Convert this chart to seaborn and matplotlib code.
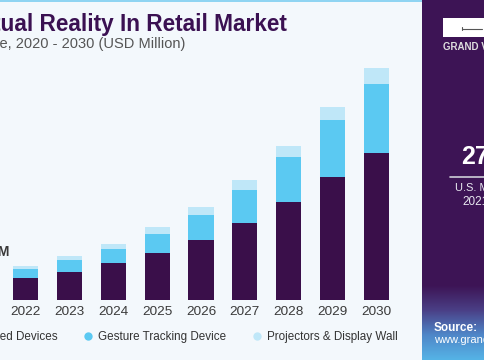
import numpy as np
import pandas as pd
import matplotlib
matplotlib.use("Agg")
from matplotlib import pyplot as plt
from matplotlib.colors import LinearSegmentedColormap
from matplotlib.lines import Line2D
from matplotlib.patches import Rectangle
import seaborn as sns

# data (USD million)
years = ["2022", "2023", "2024", "2025", "2026", "2027", "2028", "2029", "2030"]
head_mounted = [21.7, 28.3, 36.7, 46.7, 60.0, 76.7, 97.7, 123.3, 146.7]
gesture_tracking = [9.0, 11.7, 14.0, 19.0, 25.0, 33.3, 45.0, 56.7, 69.3]
projectors_wall = [3.3, 4.0, 5.3, 7.0, 7.7, 10.0, 11.3, 12.7, 15.7]
segments = ["Head Mounted Devices", "Gesture Tracking Device", "Projectors & Display Wall"]
first_label = "$27.9M"

title = "U.S. Virtual Reality In Retail Market"
subtitle = "size, by device, 2020 - 2030 (USD Million)"

DARK = "#3a0f4a"
BLUE = "#5bc9f2"
LIGHT = "#bfe7f8"
BG = "#f3f8fc"
PANEL = "#3d1455"

sns.set_theme(style="white")
plt.rcParams["font.family"] = ["Liberation Sans", "DejaVu Sans"]

W, H = 485, 360
fig = plt.figure(figsize=(W / 100, H / 100), dpi=100, facecolor=BG)

# background / decoration layer in pixel coordinates
bg = fig.add_axes([0, 0, 1, 1])
bg.set_zorder(-1)
bg.axis("off")
bg.add_patch(Rectangle((0, 0), 422, 2, color="#8fd4f2", lw=0))
bg.add_patch(Rectangle((422, 0), W - 422, H, color=PANEL, lw=0))
grad = LinearSegmentedColormap.from_list("g", [PANEL, "#4a3f86", "#4f86c8", "#55b3e6"])
bg.imshow(np.linspace(0, 1, 100).reshape(-1, 1), cmap=grad, aspect="auto",
          extent=[422, W, 360, 285], zorder=1)
bg.set_xlim(0, W)
bg.set_ylim(H, 0)

# logo block
bg.add_patch(Rectangle((443, 18), 50, 19, color="white", lw=0, zorder=2))
bg.plot([462, 482], [28.5, 28.5], color="#555", lw=0.8, zorder=3)
bg.plot([462, 462], [27, 30], color="#555", lw=0.8, zorder=3)
bg.text(443, 47, "GRAND VIEW RESEARCH", color="#ddd", fontsize=7, va="center",
        fontweight="bold", zorder=3)
bg.text(461, 157, "27.9M", color="white", fontsize=18, fontweight="bold", va="center", zorder=3)
bg.plot([450, W], [176.7, 176.7], color="#cfcfd8", lw=1.2, zorder=3)
bg.text(455, 188, "U.S. Market,", color="#e8e8f0", fontsize=8, va="center", zorder=3)
bg.text(462, 202, "2021", color="#e8e8f0", fontsize=8.5, va="center", zorder=3)
bg.text(434, 328, "Source:", color="white", fontsize=8.5, fontweight="bold", va="center", zorder=3)
bg.text(434, 340, "www.grandviewresearch.com", color="white", fontsize=8, va="center", zorder=3)

# titles (left part cropped off the canvas)
fig.text(287 / W, 1 - 25 / H, title, ha="right", va="center", fontsize=16.3,
         fontweight="bold", color="#3b1152")
fig.text(185 / W, 1 - 44 / H, subtitle, ha="right", va="center", fontsize=10.5, color="#555555")

# stacked bars
df = pd.DataFrame({"year": years, "head": head_mounted,
                   "gesture": gesture_tracking, "proj": projectors_wall})
df["mid"] = df["head"] + df["gesture"]
df["total"] = df["mid"] + df["proj"]

ax = fig.add_axes([0, 60 / H, 422 / W, 240 / H])
ax.patch.set_alpha(0)
kw = dict(ax=ax, width=0.57, saturation=1, linewidth=0)
sns.barplot(data=df, x="year", y="total", color=LIGHT, **kw)
sns.barplot(data=df, x="year", y="mid", color=BLUE, **kw)
sns.barplot(data=df, x="year", y="head", color=DARK, **kw)

ax.set_xlim(-0.581, 9.037)
ax.set_ylim(0, 240)
ax.set_xlabel("")
ax.set_ylabel("")
ax.set_yticks([])
sns.despine(ax=ax, left=True, bottom=True)
ax.tick_params(axis="x", length=0, pad=4, labelsize=9.7, labelcolor="#3a3a3a")

ax.text(-0.353, 48, first_label, ha="right", va="center", fontsize=10,
        color="#3a3a3a", fontweight="bold")

handles = [Line2D([], [], ls="", marker="o", markersize=6, color=c, markeredgewidth=0)
           for c in (DARK, BLUE, LIGHT)]
fig.legend(handles, segments, loc="center right", bbox_to_anchor=(398 / W, 1 - 337 / H),
           ncol=3, frameon=False, fontsize=8.4, handlelength=0.8, handletextpad=0.5,
           columnspacing=2.2, borderpad=0, borderaxespad=0, labelcolor="#333333")

fig.savefig("out.png", dpi=100, facecolor=BG)
